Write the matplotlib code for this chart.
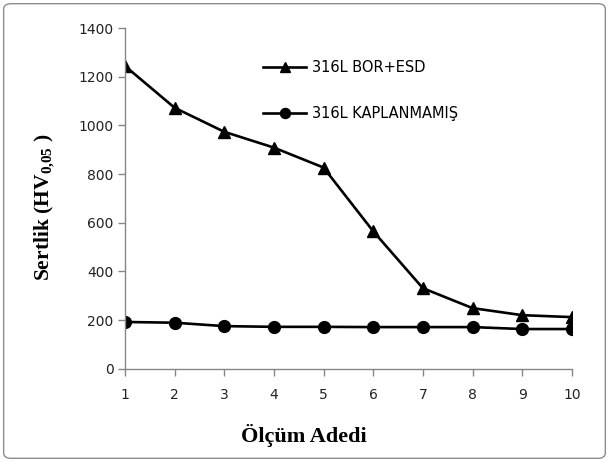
import matplotlib
matplotlib.use("Agg")
import matplotlib.pyplot as plt
from matplotlib.patches import FancyBboxPatch

plt.rcParams.update({
    "font.family": "DejaVu Sans",
    "mathtext.fontset": "custom",
    "mathtext.rm": "Liberation Serif:bold",
    "mathtext.bf": "Liberation Serif:bold",
    "mathtext.it": "Liberation Serif:bold",
})

olcum = [1, 2, 3, 4, 5, 6, 7, 8, 9, 10]
bor_esd = [1245, 1073, 974, 909, 827, 565, 331, 249, 220, 212]
kaplanmamis = [192, 189, 175, 172, 172, 171, 171, 171, 163, 163]
yticks = [0, 200, 400, 600, 800, 1000, 1200, 1400]

fig = plt.figure(figsize=(6.09, 4.62), dpi=100)
ax = fig.add_axes([0.205, 0.202, 0.734, 0.737])

# gray rounded frame round the whole chart
frame = FancyBboxPatch((0.006, 0.008), 0.988, 0.984, boxstyle="round,pad=0,rounding_size=0.012",
                       transform=fig.transFigure, fill=False, ec="#8c8c8c", lw=1.0)
fig.patches.append(frame)

ax.plot(olcum, bor_esd, c="black", lw=1.9, marker="^", ms=9, label="316L BOR+ESD")
ax.plot(olcum, kaplanmamis, c="black", lw=1.9, marker="o", ms=8.5, label="316L KAPLANMAMIŞ")

ax.set_xlim(1, 10)
ax.set_ylim(0, 1400)
ax.set_xticks(olcum)
ax.set_yticks(yticks)
for s in ["top", "right"]:
    ax.spines[s].set_visible(False)
for s in ["left", "bottom"]:
    ax.spines[s].set_color("#868686")
    ax.spines[s].set_linewidth(1.0)
ax.tick_params(axis="both", colors="#868686", labelcolor="#222222", labelsize=10,
               length=5, width=1.0, direction="out")
ax.tick_params(axis="x", pad=9)
ax.tick_params(axis="y", pad=3)

ax.set_xlabel("Ölçüm Adedi", family="Liberation Serif", weight="bold", fontsize=16)
ax.xaxis.set_label_coords(0.40, -0.197)
ax.xaxis.label.set_va("center")
ax.set_ylabel("Sertlik (HV$_{0{,}05}$ )", family="Liberation Serif", weight="bold", fontsize=15.5)
ax.yaxis.set_label_coords(-0.179, 0.474)
ax.yaxis.label.set_va("center")

ax.legend(frameon=False, loc="upper left", bbox_to_anchor=(0.279, 0.945), fontsize=10.5,
          handlelength=3.0, labelspacing=2.1, handletextpad=0.4, markerscale=0.85)

fig.savefig("out.png", dpi=100)
